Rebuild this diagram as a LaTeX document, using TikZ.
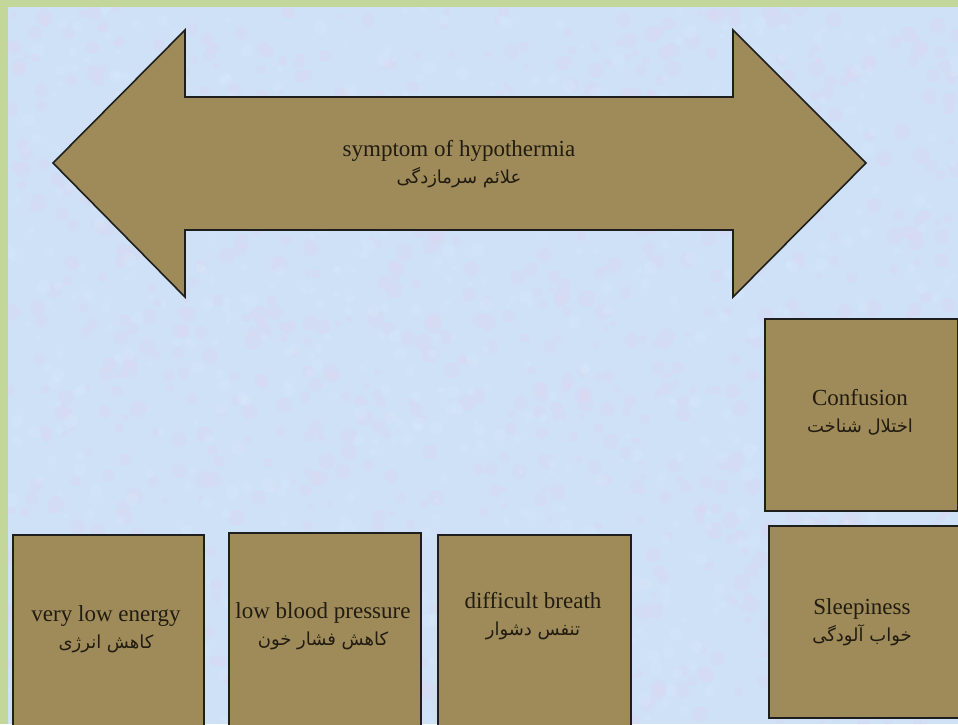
\documentclass[tikz,border=0pt]{standalone}
\usepackage{fontspec}
\setmainfont{Liberation Serif}
\newfontfamily\fa[Script=Arabic]{DejaVu Sans}
\TeXXeTstate=1
\usetikzlibrary{calc}
\definecolor{frame}{RGB}{196,215,155}
\definecolor{paper}{RGB}{206,225,247}
\definecolor{blush}{RGB}{236,206,238}
\definecolor{frost}{RGB}{222,238,252}
\definecolor{khaki}{RGB}{159,139,90}
\definecolor{edge}{RGB}{30,30,28}
\definecolor{ink}{RGB}{34,28,16}
\newcommand\fatext[1]{{\fa\fontsize{18}{20}\selectfont\beginR #1\endR}}

\begin{document}
\begin{tikzpicture}[x=1pt,y=-1pt,
  card/.style={draw=edge, line width=1.6pt, fill=khaki, inner sep=0pt,
    minimum width=192pt, minimum height=192pt, anchor=north west},
  caption/.style={text=ink, align=center, inner sep=0pt,
    font=\fontsize{23}{27}\selectfont}]

\useasboundingbox (0,0) rectangle (958,724);
\clip (0,0) rectangle (958,724);

% page frame and mottled paper
\fill[frame] (0,0) rectangle (958,724);
\fill[paper] (8,7) rectangle (958,724);
\begin{scope}
  \clip (8,7) rectangle (958,724);
  \pgfmathsetseed{4211}
  \foreach \i in {1,...,1100}{
    \pgfmathsetmacro\px{8+950*rnd}
    \pgfmathsetmacro\py{7+717*rnd}
    \pgfmathsetmacro\pr{3+6*rnd}
    \fill[blush, opacity=0.16] (\px,\py) circle (\pr);
  }
  \foreach \i in {1,...,700}{
    \pgfmathsetmacro\px{8+950*rnd}
    \pgfmathsetmacro\py{7+717*rnd}
    \pgfmathsetmacro\pr{2+5*rnd}
    \fill[frost, opacity=0.22] (\px,\py) circle (\pr);
  }
\end{scope}

% double-headed arrow banner
\draw[edge, line width=1.6pt, fill=khaki, line join=miter]
  (53,163) -- (185,30) -- (185,97) -- (733,97) -- (733,30) -- (866,163)
  -- (733,297) -- (733,230) -- (185,230) -- (185,297) -- cycle;
\node[caption] (title) at (459,164)
  {symptom of hypothermia\\ \fatext{علائم سرمازدگی}};

% symptom cards
\node[card, minimum width=193pt] (confusion) at (764,318) {};
\node[card] (sleepy) at (768,525) {};
\node[card, minimum width=191pt, minimum height=200pt] (energy) at (12,534) {};
\node[card, minimum height=200pt] (pressure) at (228,532) {};
\node[card, minimum width=193pt, minimum height=200pt] (breath) at (437,534) {};

\node[caption] (confusiontext) at (860,412)
  {Confusion\\ \fatext{اختلال شناخت}};
\node[caption] (sleepytext) at (862,622)
  {Sleepiness\\ \fatext{خواب آلودگی}};
\node[caption] (energytext) at (106,629)
  {very low energy\\ \fatext{کاهش انرژی}};
\node[caption] (pressuretext) at (323,626)
  {low blood pressure\\ \fatext{کاهش فشار خون}};
\node[caption] (breathtext) at (533,616)
  {difficult breath\\ \fatext{تنفس دشوار}};
\end{tikzpicture}
\end{document}
